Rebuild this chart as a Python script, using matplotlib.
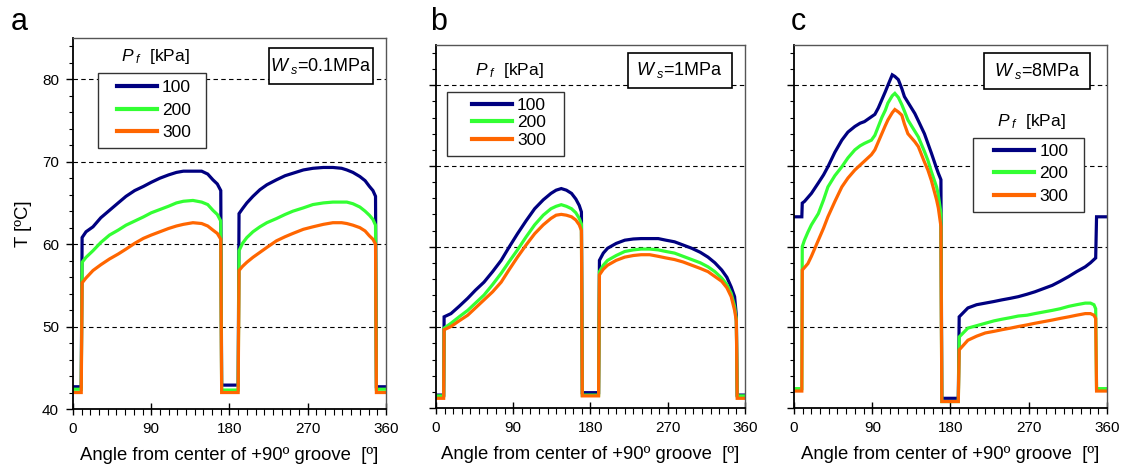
import matplotlib
matplotlib.use('Agg')
import matplotlib.pyplot as plt
from matplotlib.patches import Rectangle
from matplotlib.ticker import MultipleLocator

plt.rcParams['font.family'] = ['Liberation Sans', 'DejaVu Sans']
plt.rcParams['mathtext.fontset'] = 'custom'
plt.rcParams['mathtext.rm'] = 'Liberation Sans'
plt.rcParams['mathtext.it'] = 'Liberation Sans:italic'

pf_labels = ['100', '200', '300']
colors = ['#000080', '#33ff33', '#ff6600']

# panel a : Ws = 0.1 MPa
ang_a = [0, 9.5, 10.5, 15, 23, 32, 42, 52, 61, 71, 81, 90, 100, 110, 119, 127, 138, 148, 155, 161, 166, 170,
         171, 190, 191, 195, 200, 207, 215, 223, 234, 244, 253, 265, 276, 288, 299, 309, 315, 322, 330, 336,
         341, 345, 348, 349, 360]
t_a_100 = [42.7, 42.7, 60.8, 61.5, 62.1, 63.2, 64.1, 65.0, 65.8, 66.5, 67.0, 67.5, 68.0, 68.4, 68.7, 68.85, 68.85,
           68.85, 68.5, 67.8, 67.3, 66.5, 42.9, 42.9, 63.7, 64.3, 65.0, 65.8, 66.6, 67.2, 67.8, 68.3, 68.6, 69.0,
           69.2, 69.3, 69.3, 69.2, 69.0, 68.7, 68.2, 67.7, 67.0, 66.5, 65.8, 42.7, 42.7]
t_a_200 = [42.4, 42.4, 57.8, 58.4, 59.2, 60.2, 61.1, 61.7, 62.3, 62.8, 63.3, 63.8, 64.2, 64.6, 65.0, 65.2, 65.3,
           65.1, 64.8, 64.1, 63.6, 62.8, 42.3, 42.3, 59.2, 60.1, 60.8, 61.5, 62.1, 62.6, 63.1, 63.6, 64.0, 64.4,
           64.8, 65.0, 65.1, 65.1, 65.1, 64.9, 64.5, 64.0, 63.5, 63.0, 62.3, 42.4, 42.4]
t_a_300 = [42.0, 42.0, 55.3, 55.9, 56.8, 57.5, 58.2, 58.8, 59.4, 60.1, 60.7, 61.1, 61.5, 61.9, 62.2, 62.4, 62.6,
           62.5, 62.2, 61.7, 61.3, 60.6, 42.0, 42.0, 56.8, 57.3, 57.8, 58.4, 59.0, 59.6, 60.4, 60.9, 61.3, 61.8,
           62.1, 62.4, 62.6, 62.6, 62.5, 62.3, 62.0, 61.6, 61.0, 60.6, 60.0, 42.0, 42.0]

# panel b : Ws = 1 MPa
ang_b = [0, 9, 9.5, 17.5, 27, 37, 46, 56, 66, 76, 85, 95, 105, 115, 125, 134, 140, 146, 152, 158, 163, 167, 169.5,
         170.5, 189.5, 190.5, 195, 200, 210, 220, 230, 239, 249, 259, 268, 278, 288, 298, 308, 317, 325, 333, 339,
         344, 348, 350, 351, 360]
t_b_100 = [41.6, 41.6, 51.3, 51.7, 52.6, 53.6, 54.6, 55.6, 56.9, 58.3, 59.9, 61.6, 63.2, 64.7, 65.8, 66.6, 67.0,
           67.2, 67.0, 66.6, 65.9, 65.1, 64.3, 41.9, 41.9, 58.3, 59.2, 59.8, 60.4, 60.8, 60.95, 61.0, 61.0, 61.0,
           60.8, 60.6, 60.2, 59.8, 59.3, 58.7, 58.0, 57.1, 56.2, 55.0, 53.8, 51.5, 41.6, 41.6]
t_b_200 = [41.5, 41.5, 49.9, 50.5, 51.3, 52.1, 53.0, 54.0, 55.3, 56.7, 58.1, 59.6, 61.2, 62.7, 63.9, 64.7, 65.0,
           65.2, 65.0, 64.7, 64.2, 63.5, 62.8, 41.6, 41.6, 56.9, 57.7, 58.3, 58.9, 59.4, 59.6, 59.7, 59.7, 59.6,
           59.4, 59.2, 58.8, 58.4, 58.0, 57.5, 56.9, 56.1, 55.3, 54.2, 52.6, 51.0, 41.5, 41.5]
t_b_300 = [41.2, 41.2, 49.7, 50.1, 50.8, 51.5, 52.4, 53.4, 54.4, 55.6, 57.1, 58.7, 60.2, 61.6, 62.7, 63.5, 63.9,
           64.0, 63.9, 63.7, 63.3, 62.7, 62.0, 41.5, 41.5, 56.5, 57.2, 57.7, 58.3, 58.7, 58.9, 59.0, 59.0, 58.8,
           58.6, 58.4, 58.1, 57.7, 57.3, 56.9, 56.3, 55.7, 54.9, 53.8, 52.1, 50.8, 41.2, 41.2]

# panel c : Ws = 8 MPa
ang_c = [0, 9, 9.5, 12, 16, 20, 28, 34, 39, 47, 55, 62, 70, 76, 81, 89, 93, 97, 101, 105, 108, 113, 116, 120, 124,
         127, 131, 139, 143, 150, 154, 158, 164, 166, 169, 170, 189, 190, 200, 210, 220, 230, 239, 249, 258, 268,
         277, 287, 297, 306, 316, 325, 335, 341, 345, 347, 348, 360]
t_c_100 = [63.7, 63.7, 65.4, 65.6, 66.1, 66.6, 67.9, 68.9, 69.9, 71.7, 73.2, 74.2, 74.9, 75.3, 75.5, 76.1, 76.4,
           77.2, 78.2, 79.2, 80.0, 81.3, 81.1, 80.7, 79.6, 78.6, 77.9, 76.5, 75.6, 74.0, 72.8, 71.6, 69.7, 69.1,
           68.3, 41.2, 41.2, 51.3, 52.4, 52.8, 53.0, 53.2, 53.4, 53.6, 53.8, 54.1, 54.4, 54.8, 55.2, 55.7, 56.3,
           56.9, 57.5, 58.0, 58.4, 58.6, 63.7, 63.7]
t_c_200 = [42.4, 42.4, 60.0, 60.8, 61.8, 62.7, 64.1, 65.8, 67.4, 68.8, 69.9, 71.0, 72.0, 72.5, 72.8, 73.2, 73.8,
           74.9, 76.0, 76.9, 77.8, 78.7, 79.0, 78.5, 77.6, 76.8, 75.7, 74.3, 73.6, 71.8, 70.7, 69.3, 67.4, 66.4,
           64.1, 40.8, 40.8, 48.8, 49.9, 50.2, 50.5, 50.8, 51.0, 51.2, 51.4, 51.5, 51.7, 51.9, 52.1, 52.3, 52.6,
           52.8, 53.0, 53.0, 52.8, 52.3, 42.4, 42.4]
t_c_300 = [42.1, 42.1, 57.1, 57.4, 57.9, 58.8, 60.8, 62.3, 63.7, 65.6, 67.4, 68.5, 69.5, 70.1, 70.6, 71.4, 72.0,
           73.0, 74.0, 75.0, 75.7, 76.6, 77.0, 76.7, 76.3, 75.2, 74.0, 73.0, 72.4, 70.5, 69.5, 68.2, 65.8, 64.8,
           62.5, 40.8, 40.8, 47.2, 48.4, 48.9, 49.3, 49.5, 49.7, 49.9, 50.1, 50.3, 50.5, 50.7, 50.9, 51.1, 51.3,
           51.5, 51.7, 51.7, 51.5, 51.1, 42.1, 42.1]

panels = [
    ('a', ang_a, [t_a_100, t_a_200, t_a_300], r'$W_{\ s}$=0.1MPa'),
    ('b', ang_b, [t_b_100, t_b_200, t_b_300], r'$W_{\ s}$=1MPa'),
    ('c', ang_c, [t_c_100, t_c_200, t_c_300], r'$W_{\ s}$=8MPa'),
]

# layout (figure fractions), legend / title / box positions (axes fractions)
rects = [[0.0651, 0.1279, 0.2792, 0.7910],
         [0.3889, 0.1301, 0.2756, 0.7740],
         [0.7083, 0.1301, 0.2792, 0.7740]]
leg_anchor = [(0.1406, 0.8060), (0.1165, 0.786), (0.639, 0.645)]
leg_space = [0.40, 0.14, 0.43]
leg_frame = [(0.0799, 0.7035, 0.345, 0.202), (0.0356, 0.694, 0.379, 0.176), (0.572, 0.540, 0.355, 0.204)]
pf_pos = [(0.264, 0.949), (0.238, 0.931), (0.757, 0.788)]
ws_box = [(0.626, 0.876, 0.332, 0.097), (0.621, 0.882, 0.337, 0.096), (0.607, 0.879, 0.339, 0.099)]
letter_x = [0.010, 0.384, 0.705]

fig = plt.figure(figsize=(11.21, 4.69), dpi=100)

for i, (letter, ang, temps, ws) in enumerate(panels):
    ax = fig.add_axes(rects[i])
    for t, c, lab in zip(temps, colors, pf_labels):
        ax.plot(ang, t, color=c, lw=2.3, label=lab, solid_joinstyle='miter')

    ax.set_xlim(0, 360)
    ax.set_ylim(40, 85)
    ax.xaxis.set_major_locator(MultipleLocator(90))
    ax.xaxis.set_minor_locator(MultipleLocator(10))
    ax.yaxis.set_major_locator(MultipleLocator(10))
    ax.yaxis.set_minor_locator(MultipleLocator(2))
    ax.tick_params(axis='x', which='major', direction='inout', length=9, width=1, labelsize=11, pad=5)
    ax.tick_params(axis='x', which='minor', direction='out', length=4, width=0.8)
    ax.tick_params(axis='y', which='major', direction='out', length=5, width=1, labelsize=11, pad=5)
    ax.tick_params(axis='y', which='minor', direction='out', length=3, width=0.8)
    if i > 0:
        ax.tick_params(axis='y', labelleft=False)
    else:
        ax.set_ylabel('T [ºC]', fontsize=13.3, labelpad=7)

    for yv in [50, 60, 70, 80]:
        ax.axhline(yv, color='black', lw=0.8, ls=(0, (4, 3)), zorder=0)

    for s in ['left', 'bottom']:
        ax.spines[s].set_linewidth(1.3)
        ax.spines[s].set_color('black')
    for s in ['top', 'right']:
        ax.spines[s].set_linewidth(1.0)
        ax.spines[s].set_color('#555555')

    ax.set_xlabel('Angle from center of +90º groove  [º]', fontsize=13.3, labelpad=8)

    # legend entries without frame, frame drawn separately to get the wide side margins
    leg = ax.legend(loc='center left', bbox_to_anchor=leg_anchor[i], borderaxespad=0, borderpad=0,
                    fontsize=12.5, handlelength=2.3, handletextpad=0.3, labelspacing=leg_space[i],
                    frameon=False)
    leg.set_zorder(7)
    for ln in leg.get_lines():
        ln.set_linewidth(3)
    fx, fy, fw, fh = leg_frame[i]
    ax.add_patch(Rectangle((fx, fy), fw, fh, transform=ax.transAxes, facecolor='white',
                           edgecolor='#333333', lw=1.0, zorder=5))

    ax.text(pf_pos[i][0], pf_pos[i][1], r'$P_{\ f}$  [kPa]', transform=ax.transAxes,
            ha='center', va='center', fontsize=12.5)

    bx, by, bw, bh = ws_box[i]
    ax.add_patch(Rectangle((bx, by), bw, bh, transform=ax.transAxes, facecolor='white',
                           edgecolor='black', lw=1.2, zorder=5))
    ax.text(bx + bw / 2, by + bh / 2, ws, transform=ax.transAxes, ha='center', va='center',
            fontsize=13, zorder=6)

    fig.text(letter_x[i], 0.935, letter, fontsize=22, ha='left', va='baseline')

fig.savefig('out.png', dpi=100)
